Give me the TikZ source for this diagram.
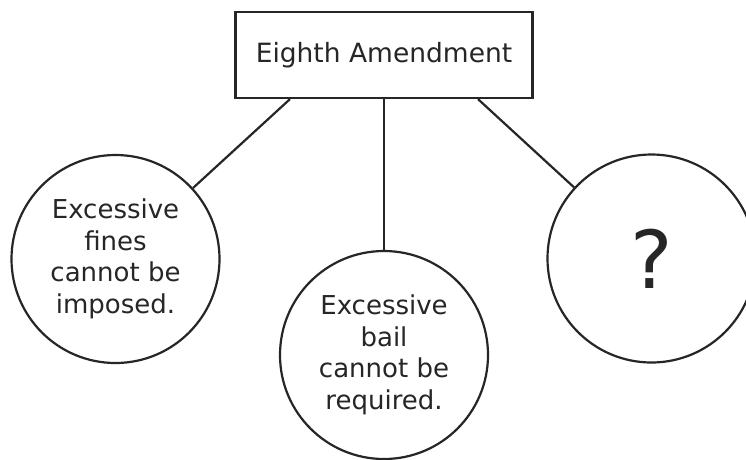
\documentclass[tikz,border=0pt]{standalone}
\usepackage{fontspec}
\setmainfont{DejaVu Sans}
\usetikzlibrary{calc}
\begin{document}
\begin{tikzpicture}[x=1pt,y=-1pt,
  every node/.style={text=black!85},
  topbox/.style={draw=black!85,line width=2.2pt,minimum width=297pt,minimum height=86pt,inner sep=0pt,font=\fontsize{26.5}{32}\selectfont},
  bubble/.style={draw=black!85,line width=2.2pt,circle,minimum size=208pt,inner sep=0pt,align=center,font=\fontsize{26}{31.5}\selectfont},
  link/.style={draw=black!85,line width=2.2pt}]
\useasboundingbox (0,0) rectangle (746,459);
\fill[white] (0,0) rectangle (746,459);
\node[topbox] (top) at (384,55) {Eighth Amendment};
\node[bubble] (left) at (115.5,259) {Excessive\\fines\\cannot be\\imposed.};
\node[bubble] (mid) at (384,355) {Excessive\\bail\\cannot be\\required.};
\node[bubble,font=\fontsize{80}{80}\selectfont] (right) at (651.5,258.5) {?};
\coordinate (tl) at ($(top.south)+(-94,0)$);
\coordinate (tr) at ($(top.south)+(94,0)$);
\draw[link] (tl) -- (left);
\draw[link] (top.south) -- (mid);
\draw[link] (tr) -- (right);
\end{tikzpicture}
\end{document}
